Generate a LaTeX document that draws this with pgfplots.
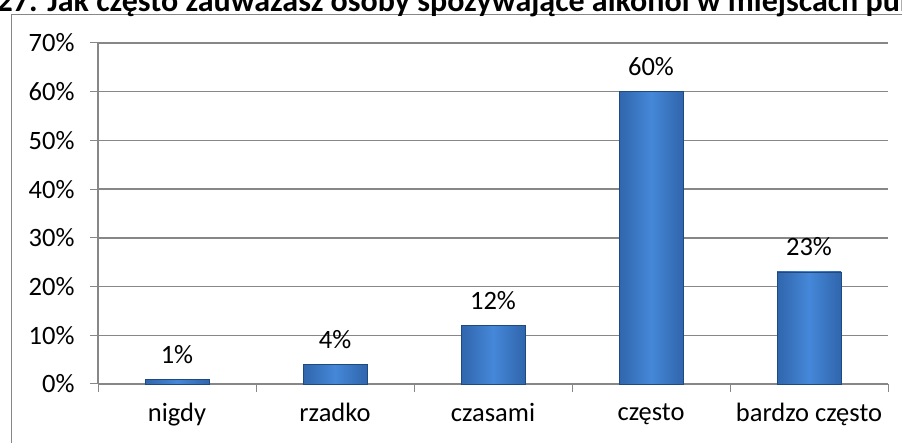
\documentclass[border=0pt]{standalone}
\usepackage{pgfplots}
\pgfplotsset{compat=1.18}
\usepackage{fontspec}
\setmainfont{Carlito}
\definecolor{gridc}{HTML}{878787}
\definecolor{barmid}{HTML}{4587D8}
\definecolor{baredge}{HTML}{3066AC}
\definecolor{barline}{HTML}{1F4A80}
\begin{document}
\begin{tikzpicture}[x=1pt,y=1pt]
\useasboundingbox (0,0) rectangle (902,443);
\draw[gridc, line width=1pt] (11.5,-20) -- (11.5,428.5) -- (950,428.5);
\node[anchor=base west, font=\bfseries\fontsize{32}{36}\selectfont, inner sep=0] at (-3.5,431.5) {27. Jak często zauważasz osoby spożywające alkohol w miejscach publicznych?};
\begin{axis}[at={(98pt,59pt)}, anchor=south west, scale only axis,
  width=790pt, height=341pt,
  xmin=-0.5, xmax=4.5, ymin=0, ymax=70,
  ytick={0,10,...,70},
  yticklabel={\pgfmathprintnumber{\tick}\%},
  xtick={0,...,4},
  xticklabels={nigdy,rzadko,czasami,często,bardzo często},
  minor xtick={-0.5,0.5,...,4.5},
  tick align=outside,
  major tick length=8pt, minor tick length=8pt,
  major x tick style={draw=none},
  tick style={gridc, line width=1pt},
  ymajorgrids, grid style={gridc, line width=1.5pt},
  axis x line*=bottom, axis y line*=left,
  axis line style={gridc, line width=1.5pt, -},
  tick label style={font=\fontsize{26.5}{30}\selectfont, text=black},
  yticklabel style={xshift=-12pt},
  xticklabel style={yshift=-8pt},
  /pgf/number format/assume math mode=true,
  clip=false,
  mybar/.style={ybar, bar width=64pt, bar shift=0pt, draw=barline, line width=0.8pt,
    left color=baredge, right color=baredge, middle color=barmid,
    nodes near coords={\pgfmathprintnumber{\pgfplotspointmeta}\%},
    every node near coord/.append style={text=black, anchor=center, yshift=25pt, font=\fontsize{26.5}{30}\selectfont}},
]
\addplot[mybar] coordinates {(0,1)};
\addplot[mybar] coordinates {(1,4)};
\addplot[mybar] coordinates {(2,12)};
\addplot[mybar] coordinates {(3,60)};
\addplot[mybar] coordinates {(4,23)};
\end{axis}
\end{tikzpicture}
\end{document}
